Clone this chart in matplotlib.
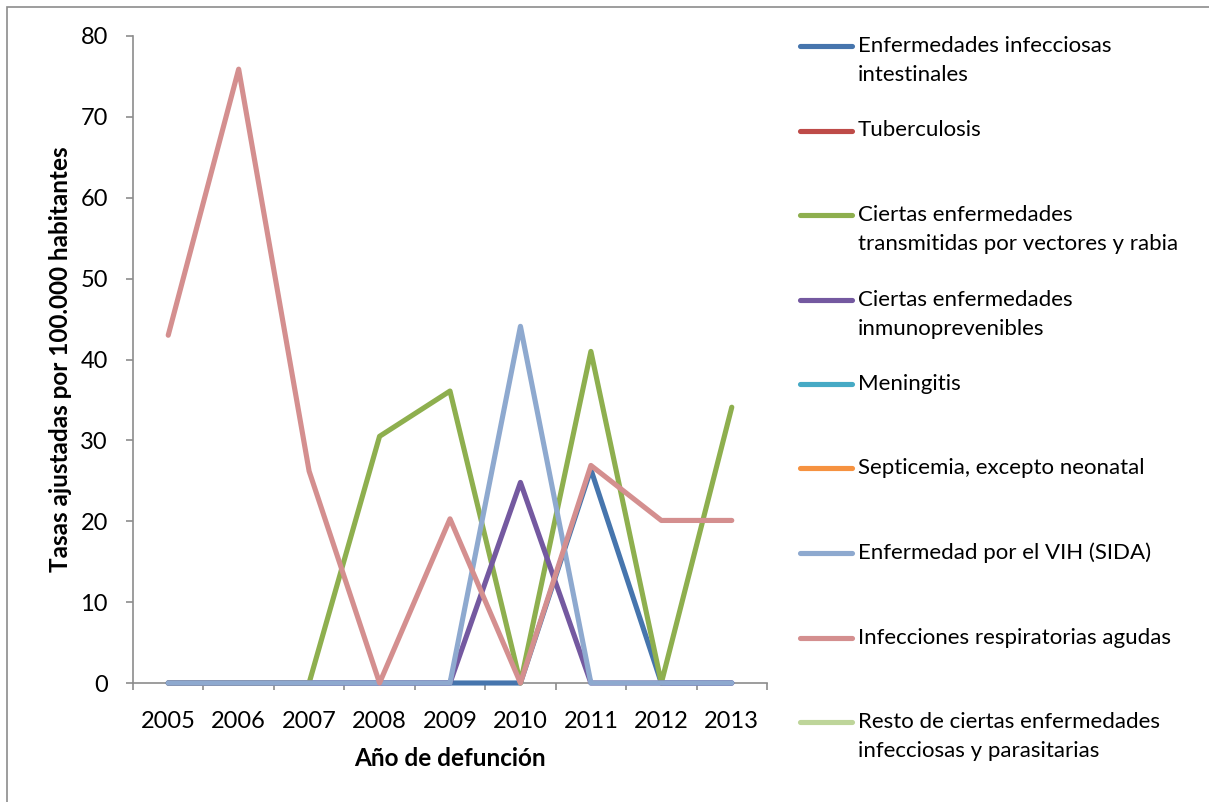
import numpy as np
import matplotlib
matplotlib.use("Agg")
from matplotlib import pyplot as plt
from matplotlib.lines import Line2D
from matplotlib.patches import Rectangle

# ---- Datos ----
anios = ['2005', '2006', '2007', '2008', '2009', '2010', '2011', '2012', '2013']
nan = np.nan

intestinales = [0, 0, 0, 0, 0, 0, 26.4, 0, 0]
tuberculosis = [nan] * 9
vectores = [0, 0, 0, 30.5, 36.1, 0, 41.0, 0, 34.1]
inmunoprevenibles = [0, 0, 0, 0, 0, 24.8, 0, 0, 0]
meningitis = [nan] * 9
septicemia = [nan] * 9
vih = [0, 0, 0, 0, 0, 44.1, 0, 0, 0]
respiratorias = [43.0, 75.9, 26.2, 0, 20.3, 0, 26.9, 20.1, 20.1]
resto = [nan] * 9

etiquetas = ["Enfermedades infecciosas\nintestinales",
             "Tuberculosis",
             "Ciertas enfermedades\ntransmitidas por vectores y rabia",
             "Ciertas enfermedades\ninmunoprevenibles",
             "Meningitis",
             "Septicemia, excepto neonatal",
             "Enfermedad por el VIH (SIDA)",
             "Infecciones respiratorias agudas",
             "Resto de ciertas enfermedades\ninfecciosas y parasitarias"]
series = [intestinales, tuberculosis, vectores, inmunoprevenibles, meningitis,
          septicemia, vih, respiratorias, resto]
colores = ['#4675AD', '#BE4B48', '#8EAF4E', '#7459A0', '#46AAC5',
           '#F69240', '#8EA9CF', '#D48F8F', '#BED59A']

plt.rcParams['font.family'] = ['Lato', 'DejaVu Sans']
FS = 16
LW = 3.7

W, H = 1209, 802
fig = plt.figure(figsize=(W / 100, H / 100), dpi=100)

def fx(px):
    return px / W

def fy(py):
    return 1 - py / H

# marco del área del gráfico
fig.patches.append(Rectangle((fx(7), -0.1), 1.2, fy(7) + 0.1, transform=fig.transFigure,
                             fill=False, edgecolor='#8C8C8C', linewidth=1.2))

ax = fig.add_axes([fx(133), fy(683), fx(767) - fx(133), fy(36) - fy(683)])
x = np.arange(len(anios))
for datos, col in zip(series, colores):
    ax.plot(x, datos, color=col, linewidth=LW, solid_capstyle='round',
            solid_joinstyle='round', clip_on=False)

ax.set_xlim(-0.5, len(anios) - 0.5)
ax.set_ylim(0, 80)
ax.set_yticks(np.arange(0, 81, 10))
ax.set_xticks(x)
ax.set_xticklabels(anios)
ax.set_xticks(np.arange(-0.5, len(anios)), minor=True)

for s in ['top', 'right']:
    ax.spines[s].set_visible(False)
for s in ['left', 'bottom']:
    ax.spines[s].set_color('#8C8C8C')
    ax.spines[s].set_linewidth(1.2)
    ax.spines[s].set_zorder(0.5)

ax.tick_params(axis='x', which='major', length=0, pad=20, labelsize=17)
ax.tick_params(axis='x', which='minor', length=5, color='#8C8C8C', width=1.2)
ax.tick_params(axis='y', length=5, color='#8C8C8C', width=1.2, pad=13, labelsize=17)

ax.set_xlabel("Año de defunción", fontsize=17.5, fontweight='bold', labelpad=11)
ax.set_ylabel("Tasas ajustadas por 100.000 habitantes", fontsize=17.5,
              fontweight='bold', labelpad=6)

# ---- Leyenda ----
y0, paso, linea = 46, 84.5, 29
for i, (txt, col) in enumerate(zip(etiquetas, colores)):
    y = y0 + i * paso
    fig.add_artist(Line2D([fx(800), fx(852)], [fy(y), fy(y)], color=col,
                          linewidth=LW, solid_capstyle='round',
                          transform=fig.transFigure))
    for k, parte in enumerate(txt.split("\n")):
        fig.text(fx(858), fy(y + k * linea), parte, fontsize=FS,
                 va='center', ha='left')

fig.savefig("out.png", dpi=100)
